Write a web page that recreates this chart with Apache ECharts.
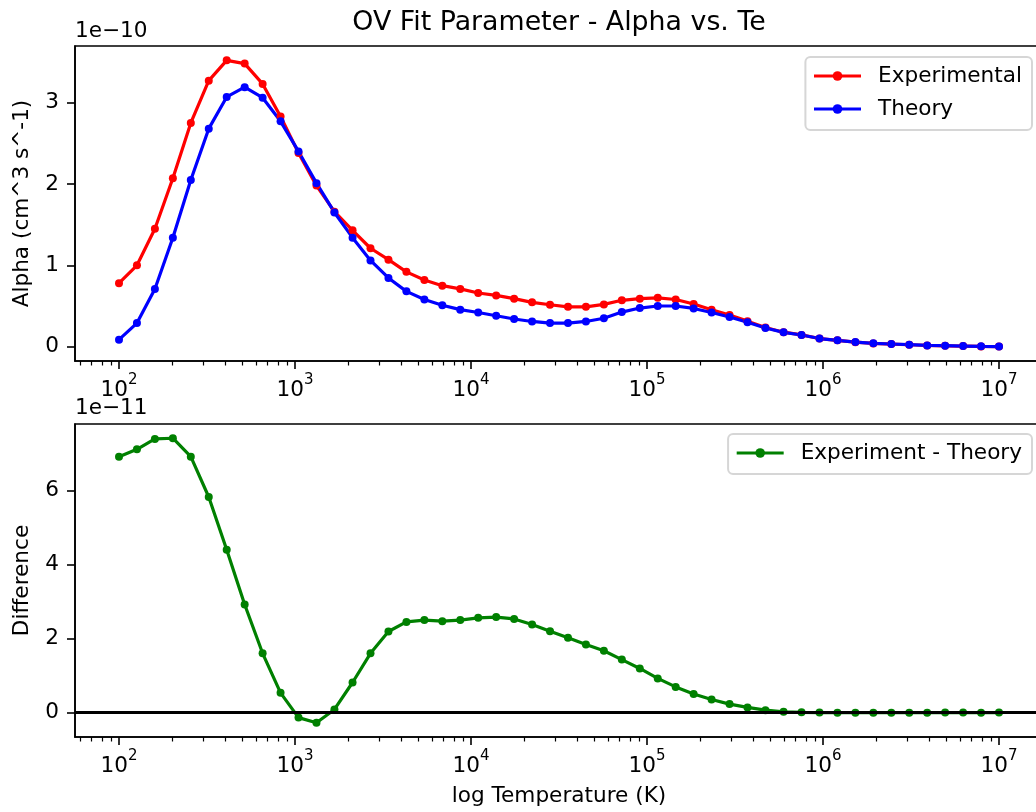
<!DOCTYPE html>
<html>
<head>
<meta charset="utf-8">
<title>OV Fit Parameter - Alpha vs. Te</title>
<script src="https://cdn.jsdelivr.net/npm/echarts@6/dist/echarts.min.js"></script>
<style>
  html, body { margin: 0; padding: 0; background: #fff; overflow: hidden; }
  #chart { width: 1036px; height: 812px; }
</style>
</head>
<body>
<div id="chart"></div>
<script>
// log10 of temperature (K), 50 points from 10^2 to 10^7
const logT = [
  2.000, 2.102, 2.204, 2.306, 2.408, 2.510, 2.612, 2.714, 2.816, 2.918,
  3.020, 3.122, 3.224, 3.327, 3.429, 3.531, 3.633, 3.735, 3.837, 3.939,
  4.041, 4.143, 4.245, 4.347, 4.449, 4.551, 4.653, 4.755, 4.857, 4.959,
  5.061, 5.163, 5.265, 5.367, 5.469, 5.571, 5.673, 5.776, 5.878, 5.980,
  6.082, 6.184, 6.286, 6.388, 6.490, 6.592, 6.694, 6.796, 6.898, 7.000
];

// alpha in units of 1e-10 cm^3 s^-1
const alphaExp = [
  0.78, 1.00, 1.45, 2.07, 2.75, 3.27, 3.52, 3.48, 3.23, 2.83,
  2.38, 1.98, 1.66, 1.43, 1.21, 1.07, 0.92, 0.82, 0.75, 0.71,
  0.66, 0.63, 0.59, 0.545, 0.515, 0.49, 0.49, 0.52, 0.57, 0.59,
  0.60, 0.58, 0.525, 0.455, 0.388, 0.314, 0.236, 0.178, 0.145, 0.10,
  0.078, 0.056, 0.040, 0.032, 0.024, 0.015, 0.011, 0.007, 0.003, 0.001
];
const alphaTheory = [
  0.086, 0.29, 0.71, 1.34, 2.05, 2.68, 3.07, 3.19, 3.06, 2.77,
  2.40, 2.01, 1.65, 1.34, 1.06, 0.845, 0.68, 0.58, 0.51, 0.455,
  0.42, 0.38, 0.34, 0.31, 0.29, 0.29, 0.31, 0.35, 0.425, 0.475,
  0.50, 0.50, 0.47, 0.42, 0.365, 0.30, 0.23, 0.176, 0.144, 0.10,
  0.078, 0.057, 0.041, 0.033, 0.025, 0.016, 0.012, 0.008, 0.004, 0.001
];
// experiment - theory, in units of 1e-11
const alphaDiff = [
  6.92, 7.12, 7.40, 7.42, 6.92, 5.83, 4.40, 2.92, 1.60, 0.53,
  -0.14, -0.28, 0.08, 0.81, 1.60, 2.19, 2.45, 2.50, 2.47, 2.50,
  2.56, 2.58, 2.53, 2.38, 2.20, 2.02, 1.84, 1.67, 1.43, 1.19,
  0.92, 0.69, 0.50, 0.35, 0.225, 0.135, 0.062, 0.017, 0.003, -0.005,
  -0.008, -0.008, -0.006, -0.006, -0.008, -0.006, -0.005, -0.005, -0.006, -0.003
];

const xTickExps = [2, 3, 4, 5, 6, 7];
const yTicksTop = [0, 1, 2, 3];
const yTicksBottom = [0, 2, 4, 6];

const FONT = "DejaVu Sans";
const FS = 21.6;
const X_MIN = 1.75, X_MAX = 7.25;

// log-spaced minor ticks
const minorTicks = [];
for (let d = 1; d <= 7; d++) {
  for (let k = 2; k <= 9; k++) {
    const v = d + Math.log10(k);
    if (v > X_MIN && v < X_MAX) minorTicks.push(v);
  }
}

const black = "#000";
const lineW = 1.6;

function majorX(gridIndex, name) {
  return {
    type: "value", gridIndex, position: "bottom", min: X_MIN, max: X_MAX,
    name, nameLocation: "middle", nameGap: 48,
    nameTextStyle: { fontFamily: FONT, fontSize: FS, color: black },
    axisLine: { show: true, onZero: false, lineStyle: { color: black, width: lineW } },
    axisTick: { show: true, length: 8, customValues: xTickExps, lineStyle: { color: black, width: lineW } },
    axisLabel: {
      customValues: xTickExps, margin: 12,
      formatter: (v) => "{b|10}{s|" + Math.round(v) + "}",
      rich: {
        b: { fontFamily: FONT, fontSize: FS, color: black, lineHeight: 28, verticalAlign: "bottom" },
        s: { fontFamily: FONT, fontSize: 15, color: black, lineHeight: 15, verticalAlign: "top" }
      }
    },
    splitLine: { show: false }
  };
}

function minorX(gridIndex) {
  return {
    type: "value", gridIndex, position: "bottom", min: X_MIN, max: X_MAX,
    axisLine: { show: false, onZero: false },
    axisTick: { show: true, length: 4.5, customValues: minorTicks, lineStyle: { color: black, width: 1.2 } },
    axisLabel: { show: false },
    splitLine: { show: false }
  };
}

function yAxis(gridIndex, min, max, ticks, name, gap) {
  return {
    type: "value", gridIndex, min, max,
    name, nameLocation: "middle", nameRotate: 90, nameGap: gap,
    nameTextStyle: { fontFamily: FONT, fontSize: FS, color: black },
    axisLine: { show: true, lineStyle: { color: black, width: lineW } },
    axisTick: { show: true, length: 8, customValues: ticks, lineStyle: { color: black, width: lineW } },
    axisLabel: { customValues: ticks, margin: 16, fontFamily: FONT, fontSize: FS, color: black },
    splitLine: { show: false }
  };
}

function lineSeries(name, xi, yi, ys, color) {
  return {
    type: "line", name, xAxisIndex: xi, yAxisIndex: yi,
    data: logT.map((x, i) => [x, ys[i]]),
    color, symbol: "circle", symbolSize: 8, showAllSymbol: true,
    lineStyle: { width: 3.2, color }, itemStyle: { color },
    emphasis: { disabled: true }
  };
}

const legendBase = {
  orient: "vertical", right: 4,
  backgroundColor: "rgba(255,255,255,0.8)", borderColor: "#d6d6d6", borderWidth: 2, borderRadius: 5,
  padding: [8, 10, 10, 7], itemWidth: 47, itemHeight: 12, itemGap: 11,
  lineStyle: { width: 3.2 },
  textStyle: { fontFamily: FONT, fontSize: FS, color: black, lineHeight: 22, padding: [0, 0, 0, 12] }
};

const gridBase = {
  left: 75, width: 968, show: true, borderColor: black, borderWidth: lineW,
  backgroundColor: "transparent", containLabel: false, outerBoundsMode: "none"
};

const chart = echarts.init(document.getElementById("chart"), null, { renderer: "canvas" });
chart.setOption({
  animation: false,
  backgroundColor: "#fff",
  textStyle: { fontFamily: FONT, color: black },
  grid: [
    Object.assign({}, gridBase, { top: 46, height: 315 }),
    Object.assign({}, gridBase, { top: 424, height: 313 })
  ],
  xAxis: [majorX(0, ""), minorX(0), majorX(1, "log Temperature (K)"), minorX(1)],
  yAxis: [
    yAxis(0, -0.176, 3.696, yTicksTop, "Alpha (cm^3 s^-1)", 42),
    yAxis(1, -0.665, 7.805, yTicksBottom, "Difference", 42)
  ],
  legend: [
    Object.assign({}, legendBase, { top: 57, data: ["Experimental", "Theory"] }),
    Object.assign({}, legendBase, { top: 434, data: ["Experiment - Theory"] })
  ],
  graphic: [
    { type: "text", x: 559, y: 23, style: { text: "OV Fit Parameter - Alpha vs. Te", font: '26.8px "DejaVu Sans"', fill: black, align: "center", verticalAlign: "middle" } },
    { type: "text", x: 75, y: 31.5, style: { text: "1e\u221210", font: FS + 'px "DejaVu Sans"', fill: black, align: "left", verticalAlign: "middle" } },
    { type: "text", x: 75, y: 408.5, style: { text: "1e\u221211", font: FS + 'px "DejaVu Sans"', fill: black, align: "left", verticalAlign: "middle" } }
  ],
  series: [
    lineSeries("Experimental", 0, 0, alphaExp, "#ff0000"),
    lineSeries("Theory", 0, 0, alphaTheory, "#0000ff"),
    Object.assign(lineSeries("Experiment - Theory", 2, 1, alphaDiff, "#008000"), {
      markLine: {
        silent: true, symbol: "none", label: { show: false },
        lineStyle: { color: black, width: 3, type: "solid" },
        data: [{ yAxis: 0 }]
      }
    })
  ]
});
</script>
</body>
</html>
